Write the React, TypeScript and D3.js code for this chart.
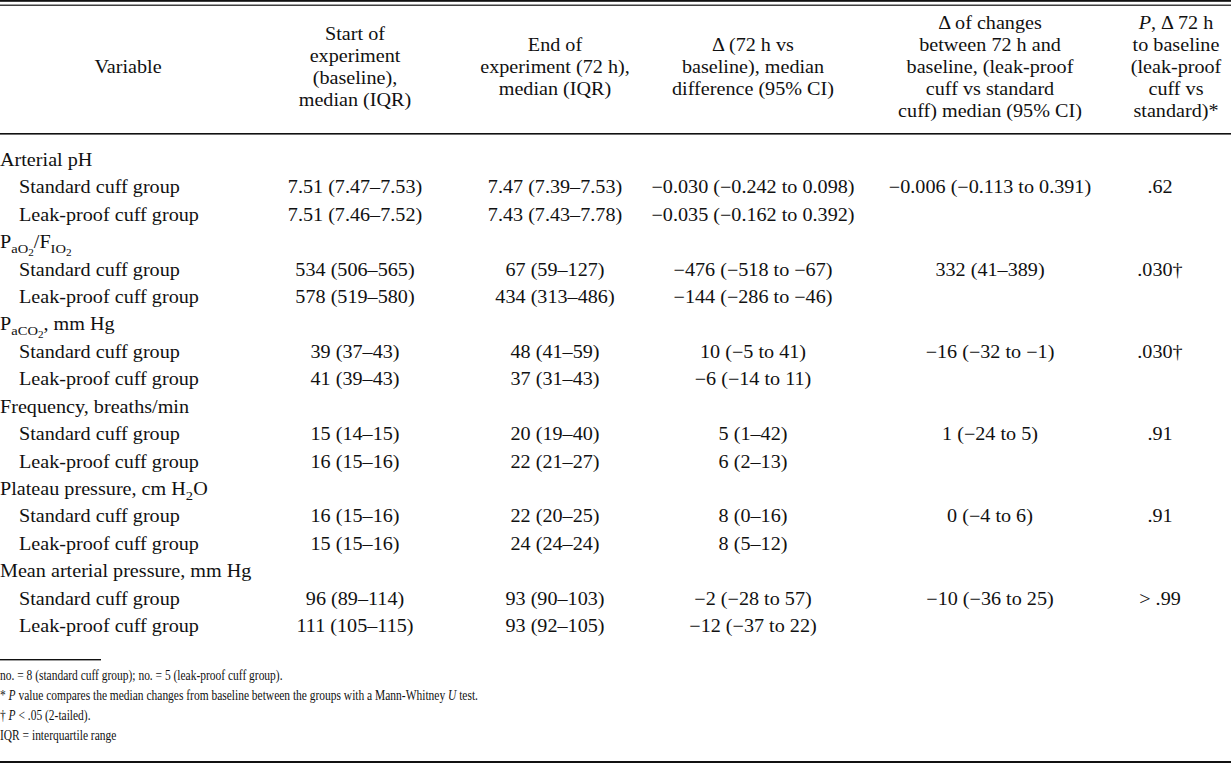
import React from 'react';
import * as d3 from 'd3';

const WIDTH = 1231;
const HEIGHT = 764;
const FONT = '"Liberation Serif", "Times New Roman", serif';
const INK = '#111';
const SX = 1.12; // the scan is a little wider than Times
const FOOT_SX = 0.765; // footnotes are set condensed

// header lines per column
const headVariable = ['Variable'];
const headBase = ['Start of', 'experiment', '(baseline),', 'median (IQR)'];
const headEnd = ['End of', 'experiment (72 h),', 'median (IQR)'];
const headDelta = ['Δ (72 h vs', 'baseline), median', 'difference (95% CI)'];
const headChange = ['Δ of changes', 'between 72 h and', 'baseline, (leak-proof', 'cuff vs standard', 'cuff) median (95% CI)'];
const headP = ['*P*, Δ 72 h', 'to baseline', '(leak-proof', 'cuff vs', 'standard)*'];

// variable labels as [text, subscript level]
const variables: [string, number][][] = [
  [['Arterial pH', 0]],
  [['P', 0], ['aO', 1], ['2', 2], ['/F', 0], ['IO', 1], ['2', 2]],
  [['P', 0], ['aCO', 1], ['2', 2], [', mm Hg', 0]],
  [['Frequency, breaths/min', 0]],
  [['Plateau pressure, cm H', 0], ['2', 1], ['O', 0]],
  [['Mean arterial pressure, mm Hg', 0]],
];
const groups = ['Standard cuff group', 'Leak-proof cuff group'];

const baselineVals = [
  '7.51 (7.47–7.53)', '7.51 (7.46–7.52)',
  '534 (506–565)', '578 (519–580)',
  '39 (37–43)', '41 (39–43)',
  '15 (14–15)', '16 (15–16)',
  '16 (15–16)', '15 (15–16)',
  '96 (89–114)', '111 (105–115)',
];
const endVals = [
  '7.47 (7.39–7.53)', '7.43 (7.43–7.78)',
  '67 (59–127)', '434 (313–486)',
  '48 (41–59)', '37 (31–43)',
  '20 (19–40)', '22 (21–27)',
  '22 (20–25)', '24 (24–24)',
  '93 (90–103)', '93 (92–105)',
];
const deltaVals = [
  '−0.030 (−0.242 to 0.098)', '−0.035 (−0.162 to 0.392)',
  '−476 (−518 to −67)', '−144 (−286 to −46)',
  '10 (−5 to 41)', '−6 (−14 to 11)',
  '5 (1–42)', '6 (2–13)',
  '8 (0–16)', '8 (5–12)',
  '−2 (−28 to 57)', '−12 (−37 to 22)',
];
const changeVals = ['−0.006 (−0.113 to 0.391)', '332 (41–389)', '−16 (−32 to −1)', '1 (−24 to 5)', '0 (−4 to 6)', '−10 (−36 to 25)'];
const pVals = ['.62', '.030†', '.030†', '.91', '.91', '> .99'];

const footnotes = [
  'no. = 8 (standard cuff group); no. = 5 (leak-proof cuff group).',
  '* *P* value compares the median changes from baseline between the groups with a Mann-Whitney *U* test.',
  '† *P* < .05 (2-tailed).',
  'IQR = interquartile range',
];

const colKeys = ['variable', 'base', 'end', 'delta', 'change', 'p'];
const colX = d3.scaleOrdinal<string, number>().domain(colKeys).range([128, 355, 555, 753, 990, 1160]);
const headX = d3.scaleOrdinal<string, number>().domain(colKeys).range([128, 355, 555, 753, 990, 1176]);

const nRows = variables.length * 3;
const rowY = d3.scalePoint<number>().domain(d3.range(nRows)).range([166, 632]);
const headLineStep = 22;
const headMid = 67;
const footY = d3.scalePoint<number>().domain(d3.range(footnotes.length)).range([680, 740]);

// split "*x*" into italic pieces
const italicParts = (s: string) => s.split('*').map((t, i) => ({ t, it: i % 2 === 1 }));

function Rich({ s }: { s: string }) {
  // literal asterisks: trailing "standard)*" and the leading "* " of a footnote
  const parts: { t: string; it: boolean }[] = [];
  if (s.endsWith(')*')) parts.push({ t: s, it: false });
  else if (s.startsWith('* ')) {
    parts.push({ t: '* ', it: false });
    italicParts(s.slice(2)).forEach(p => parts.push(p));
  } else italicParts(s).forEach(p => parts.push(p));
  return (
    <>
      {parts.map((p, i) => (
        <tspan key={i} fontStyle={p.it ? 'italic' : 'normal'}>{p.t}</tspan>
      ))}
    </>
  );
}

function Cell({ x, y, anchor = 'middle', children, size = 18, sx = SX }: any) {
  return (
    <g transform={`translate(${x},${y}) scale(${sx},1)`}>
      <text x={0} y={0} textAnchor={anchor} fontFamily={FONT} fontSize={size} fill={INK}>
        {children}
      </text>
    </g>
  );
}

const subOffset = [0, 5, 8];
const subSize = [18, 13, 10];

function Label({ segs }: { segs: [string, number][] }) {
  let prev = 0;
  return (
    <>
      {segs.map(([t, lvl], i) => {
        const dy = subOffset[lvl] - subOffset[prev];
        prev = lvl;
        return (
          <tspan key={i} dy={dy} fontSize={subSize[lvl]}>{t}</tspan>
        );
      })}
    </>
  );
}

export default function App() {
  const heads: [string, string[]][] = [
    ['variable', headVariable], ['base', headBase], ['end', headEnd],
    ['delta', headDelta], ['change', headChange], ['p', headP],
  ];

  const rows: any[] = [];
  variables.forEach((segs, v) => {
    const r0 = v * 3;
    rows.push(
      <Cell key={`v${v}`} x={0} y={rowY(r0)} anchor="start"><Label segs={segs} /></Cell>
    );
    groups.forEach((g, k) => {
      const r = r0 + 1 + k;
      const idx = v * 2 + k;
      rows.push(<Cell key={`g${idx}`} x={19} y={rowY(r)} anchor="start">{g}</Cell>);
      rows.push(<Cell key={`b${idx}`} x={colX('base')} y={rowY(r)}>{baselineVals[idx]}</Cell>);
      rows.push(<Cell key={`e${idx}`} x={colX('end')} y={rowY(r)}>{endVals[idx]}</Cell>);
      rows.push(<Cell key={`d${idx}`} x={colX('delta')} y={rowY(r)}>{deltaVals[idx]}</Cell>);
      if (k === 0) {
        rows.push(<Cell key={`c${idx}`} x={colX('change')} y={rowY(r)}>{changeVals[v]}</Cell>);
        rows.push(<Cell key={`p${idx}`} x={colX('p')} y={rowY(r)}>{pVals[v]}</Cell>);
      }
    });
  });

  return (
    <div style={{ position: 'absolute', left: 0, top: 0 }}>
      <svg width={WIDTH} height={HEIGHT} style={{ display: 'block', background: '#fff' }}>
        <rect x={0} y={0} width={WIDTH} height={HEIGHT} fill="#fff" />
        {/* rules */}
        <rect x={0} y={0} width={WIDTH} height={1.8} fill={INK} />
        <rect x={0} y={4.6} width={WIDTH} height={1.2} fill={INK} />
        <rect x={0} y={133} width={WIDTH} height={1.6} fill={INK} />
        <rect x={0} y={659} width={101} height={1.4} fill={INK} />
        <rect x={0} y={761} width={WIDTH} height={2} fill={INK} />

        {heads.map(([key, lines]) => {
          const top = headMid - ((lines.length - 1) * headLineStep) / 2;
          return lines.map((ln, i) => (
            <Cell key={`${key}${i}`} x={headX(key)} y={top + i * headLineStep + 6}>
              <Rich s={ln} />
            </Cell>
          ));
        })}

        {rows}

        {footnotes.map((f, i) => (
          <Cell key={`f${i}`} x={0} y={footY(i)} anchor="start" size={15} sx={FOOT_SX}>
            <Rich s={f} />
          </Cell>
        ))}
      </svg>
    </div>
  );
}
